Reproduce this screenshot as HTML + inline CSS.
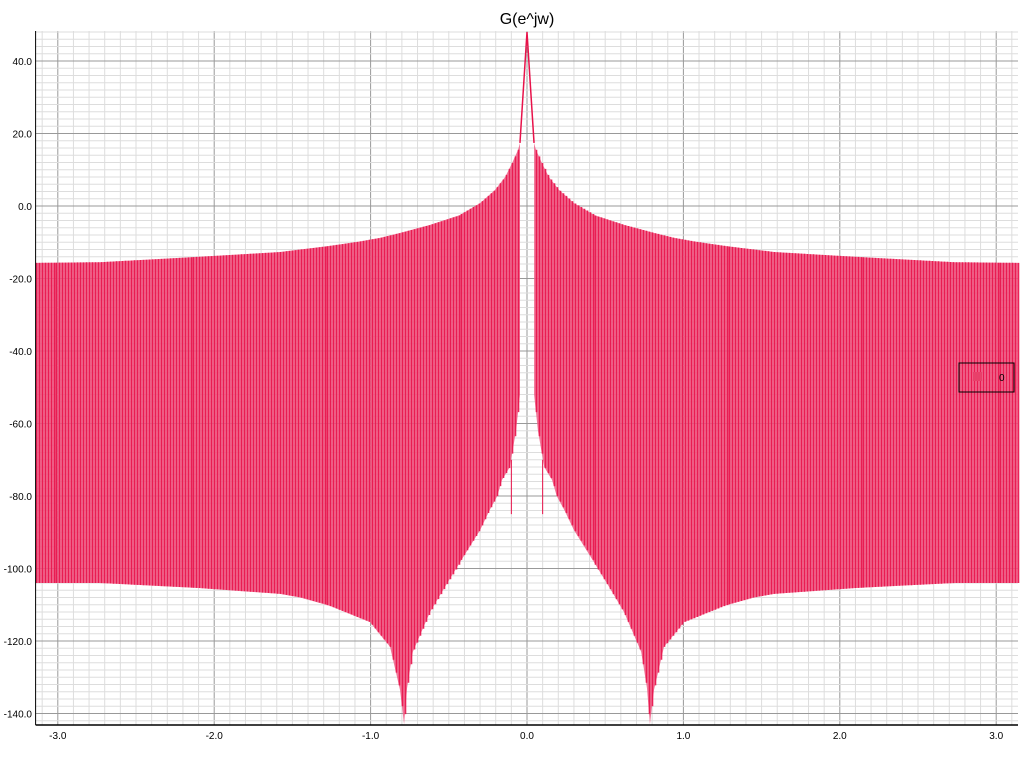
<!DOCTYPE html>
<html><head><meta charset="utf-8"><style>
html,body{margin:0;padding:0;background:#fff;width:1024px;height:760px;overflow:hidden}
svg{display:block;font-family:"Liberation Sans",sans-serif}
</style></head><body>
<svg id="chart" width="1024" height="760" viewBox="0 0 1024 760">
<text x="527" y="24" text-anchor="middle" font-size="16" fill="#000">G(e^jw)</text>
<g id="grid"></g>
<g id="series"></g>
<g id="axes"></g>
<g>
<rect x="959" y="363" width="55" height="29" fill="none" stroke="#000" stroke-width="1"/>
<rect x="973" y="372" width="9" height="9" fill="#e8406a"/>
<text x="999" y="381" font-size="10" fill="#000">0</text>
</g>
</svg>
<script>
const xTicks = [-3.0,-2.0,-1.0,0.0,1.0,2.0,3.0];
const yTicks = [40,20,0,-20,-40,-60,-80,-100,-120,-140];
// upper envelope (|w|, symmetric)
const wUpper = [0.045,0.058,0.096,0.14,0.205,0.30,0.43,0.62,0.81,0.94,1.07,1.26,1.45,1.58,2.09,2.73,3.1416];
const upperDb = [17.4,15.4,11.8,8,4.4,0.8,-2.5,-5.2,-7.4,-8.8,-9.8,-11,-12,-12.7,-14,-15.5,-15.7];
// lower envelope (|w|, symmetric)
const wLower = [0.045,0.07,0.11,0.16,0.19,0.24,0.3,0.41,0.51,0.62,0.68,0.73,0.767,0.786,0.812,0.876,1.004,1.26,1.45,1.58,2.09,2.73,3.1416];
const lowerDb = [-52,-62,-72,-75.6,-80,-84,-89.4,-97,-104,-112,-118,-123,-133,-143,-133.5,-121.6,-114.8,-110.3,-108,-107,-105.4,-104,-104];
const peakDb = 48;
const X0=35.6, X1=1018, Y0=31, Y1=725;
const xs = w => 527 + w*156.4;
const ys = v => 206 - v*3.625;
const NS="http://www.w3.org/2000/svg";
function el(tag, attrs, parent){const e=document.createElementNS(NS,tag);for(const k in attrs)e.setAttribute(k,attrs[k]);parent.appendChild(e);return e;}
const grid=document.getElementById('grid'), series=document.getElementById('series'), axes=document.getElementById('axes');
for(let i=-31;i<=31;i++){const w=i/10;const x=xs(w);if(x<X0||x>X1)continue;
 const l=el('line',{x1:x,x2:x,y1:Y0,y2:Y1,stroke:i%10===0?'#999':'#ddd','stroke-width':1},grid);
 
 }
for(let v=-142;v<=48;v+=2){const y=ys(v);
 const l=el('line',{x1:X0,x2:X1,y1:y,y2:y,stroke:v%20===0?'#999':'#ddd','stroke-width':1},grid);
 
 }
function interp(ws,arr,w){w=Math.abs(w);if(w<=ws[0])return arr[0];for(let i=1;i<ws.length;i++){if(w<=ws[i]){const t=(w-ws[i-1])/(ws[i]-ws[i-1]);return arr[i-1]+t*(arr[i]-arr[i-1]);}}return arr[arr.length-1];}
[-1,1].forEach(s=>{let pts=[];
 wUpper.forEach((w,i)=>pts.push(xs(s*w)+','+ys(upperDb[i])));
 for(let i=wLower.length-1;i>=0;i--)pts.push(xs(s*wLower[i])+','+ys(lowerDb[i]));
 const p=el('polygon',{points:pts.join(' '),fill:'#f06088','fill-opacity':0.85},series);
 
 });
const N=330;
let d='';
for(let k=0;k<=N;k++){const w=-Math.PI+2*Math.PI*k/N;if(Math.abs(w)<0.045)continue;
 const x=(Math.round(xs(w))+0.5).toFixed(1);d+='M'+x+','+ys(interp(wUpper,upperDb,w)).toFixed(1)+'V'+ys(interp(wLower,lowerDb,w)).toFixed(1);}
const sp=el('path',{d:d,stroke:'#e8124a','stroke-width':1.6,fill:'none','stroke-opacity':0.9},series);


const pk=el('polyline',{points:[xs(-wUpper[0])+','+ys(upperDb[0]),xs(0)+','+ys(peakDb),xs(wUpper[0])+','+ys(upperDb[0])].join(' '),stroke:'#e8124a','stroke-width':1.5,fill:'none'},series);


[-0.1,0.1].forEach(w=>{const s=el('line',{x1:xs(w),x2:xs(w),y1:ys(-70),y2:ys(-85),stroke:'#e8124a','stroke-width':1},series);
 
 });
const bx=el('line',{x1:X0,x2:X1,y1:Y1,y2:Y1,stroke:'#000','stroke-width':1.5},axes);


const ly=el('line',{x1:X0,x2:X0,y1:Y0,y2:Y1,stroke:'#000','stroke-width':1},axes);


xTicks.forEach(v=>{const t=el('text',{x:xs(v),y:739,'text-anchor':'middle','font-size':10,fill:'#000'},axes);t.textContent=v.toFixed(1);
 
 });
yTicks.forEach(v=>{const t=el('text',{x:32,y:ys(v)+4,'text-anchor':'end','font-size':10,fill:'#000'},axes);t.textContent=v.toFixed(1);
 
 });
</script>
</body></html>
